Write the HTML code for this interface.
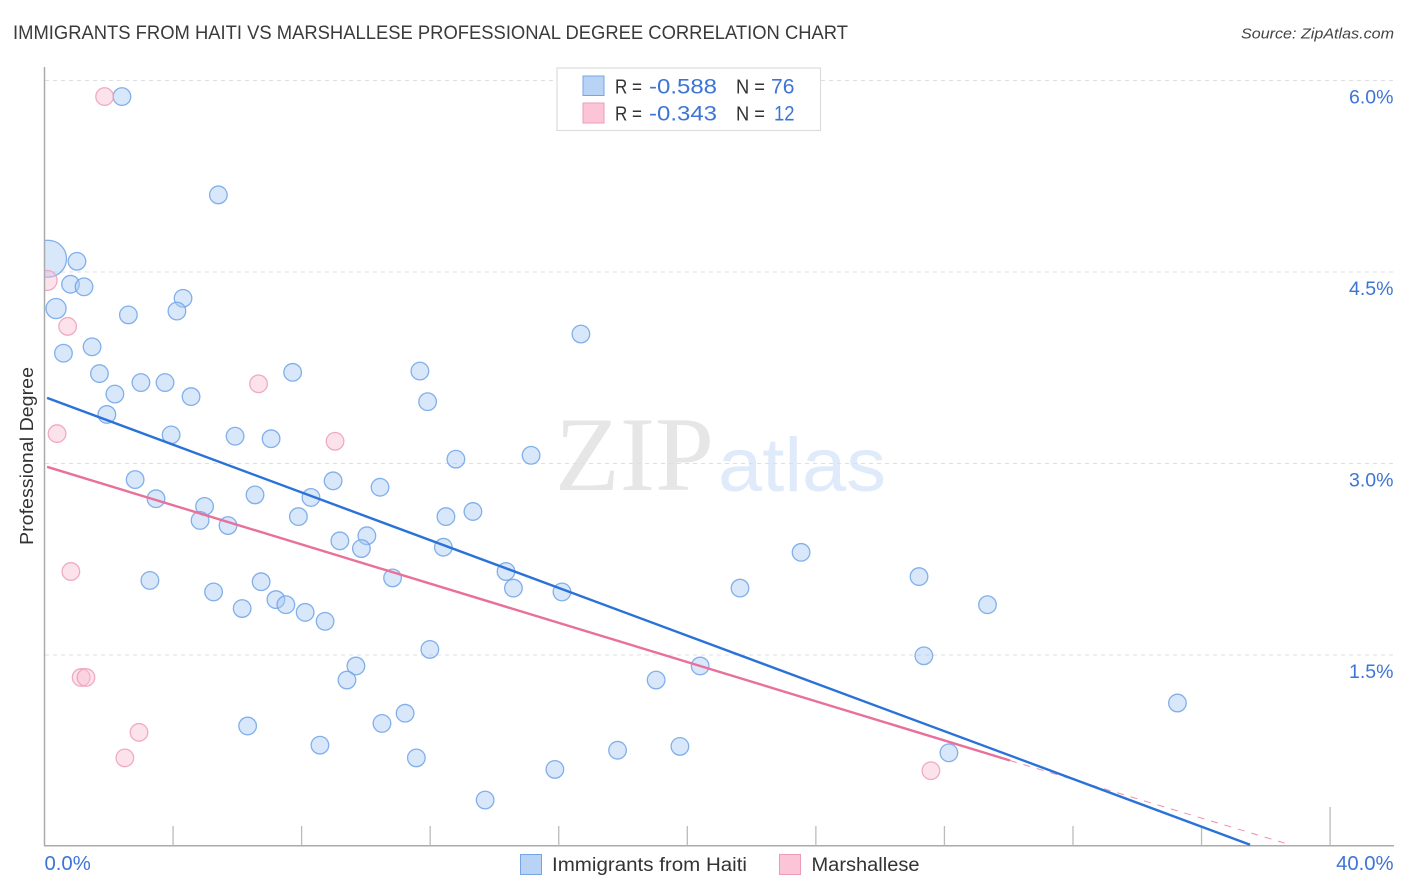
<!DOCTYPE html>
<html lang="en">
<head>
<meta charset="utf-8">
<title>Immigrants from Haiti vs Marshallese Professional Degree Correlation Chart</title>
<style>
html,body{margin:0;padding:0;background:#fff;}
body{width:1406px;height:892px;overflow:hidden;font-family:"Liberation Sans",sans-serif;}
svg{display:block;}
</style>
</head>
<body>
<svg id="chart" width="1406" height="892" viewBox="0 0 1406 892" xmlns="http://www.w3.org/2000/svg">
  <defs>
    <clipPath id="plot-clip" clipPathUnits="userSpaceOnUse"><rect x="44.5" y="60" width="1350" height="786"/></clipPath>
  </defs>
  <text x="13" y="39" font-size="19" fill="#3a3a3a" textLength="835" lengthAdjust="spacingAndGlyphs">IMMIGRANTS FROM HAITI VS MARSHALLESE PROFESSIONAL DEGREE CORRELATION CHART</text>
  <text x="1241" y="38.5" font-size="15" font-style="italic" fill="#444" textLength="153" lengthAdjust="spacingAndGlyphs">Source: ZipAtlas.com</text>
  <text x="555" y="490" font-family="'Liberation Serif',serif" font-size="106" fill="#e6e6e6" textLength="159" lengthAdjust="spacingAndGlyphs">ZIP</text>
  <text x="718" y="491" font-size="76" fill="#dfeafa" textLength="168" lengthAdjust="spacingAndGlyphs">atlas</text>
  <g id="grid"></g>
  <g id="points" clip-path="url(#plot-clip)"></g>
  <rect x="0" y="225" width="44" height="75" fill="#fff"/>
  <g id="axes"></g>
  <g id="trends"></g>
  <text transform="translate(33,456) rotate(-90)" text-anchor="middle" font-size="18" fill="#333" textLength="178" lengthAdjust="spacingAndGlyphs">Professional Degree</text>

  <g>
    <rect x="557" y="68" width="263.5" height="62.5" fill="#fff" stroke="#dcdcdc" stroke-width="1.2"/>
    <rect x="583" y="76" width="21" height="19.5" fill="#b9d3f7" stroke="#75a5e4" stroke-width="1"/>
    <rect x="583" y="103" width="21" height="20" fill="#fcc5d7" stroke="#eb9db8" stroke-width="1"/>
    <text x="615" y="93.5" font-size="20" fill="#333" textLength="27" lengthAdjust="spacingAndGlyphs">R =</text>
    <text x="649" y="93.5" font-size="21" fill="#3d75d6" textLength="68" lengthAdjust="spacingAndGlyphs">-0.588</text>
    <text x="736" y="93.5" font-size="20" fill="#333" textLength="29" lengthAdjust="spacingAndGlyphs">N =</text>
    <text x="771" y="93.5" font-size="21" fill="#3d75d6" textLength="23.5" lengthAdjust="spacingAndGlyphs">76</text>
    <text x="615" y="120.5" font-size="20" fill="#333" textLength="27" lengthAdjust="spacingAndGlyphs">R =</text>
    <text x="649" y="120.5" font-size="21" fill="#3d75d6" textLength="68" lengthAdjust="spacingAndGlyphs">-0.343</text>
    <text x="736" y="120.5" font-size="20" fill="#333" textLength="29" lengthAdjust="spacingAndGlyphs">N =</text>
    <text x="774" y="120.5" font-size="21" fill="#3d75d6" textLength="20.5" lengthAdjust="spacingAndGlyphs">12</text>
  </g>

  <g>
    <rect x="520.5" y="854.5" width="21" height="20" fill="#b9d3f7" stroke="#75a5e4" stroke-width="1"/>
    <text x="552" y="871" font-size="19" fill="#333" textLength="195" lengthAdjust="spacingAndGlyphs">Immigrants from Haiti</text>
    <rect x="779.5" y="854.5" width="21" height="20" fill="#fcc5d7" stroke="#eb9db8" stroke-width="1"/>
    <text x="811.5" y="871" font-size="19" fill="#333" textLength="108" lengthAdjust="spacingAndGlyphs">Marshallese</text>
  </g>
</svg>
<script>
// Chart data (percent values)
const haitiX = [2.41,5.41,1.01,0.81,1.23,4.31,4.12,2.61,0.36,1.48,0.59,16.69,1.71,3.00,3.75,7.72,11.68,2.19,4.56,11.92,1.94,3.94,5.93,7.05,12.80,15.14,2.82,8.98,10.44,3.47,6.55,8.29,4.98,4.84,5.71,7.90,12.49,13.33,9.19,10.03,9.86,12.41,23.54,14.36,3.28,6.74,10.83,27.21,5.26,14.59,16.10,21.64,7.20,7.51,6.15,8.11,8.73,29.34,11.99,27.36,9.69,20.40,9.41,19.03,35.25,6.32,10.50,11.22,8.57,17.83,19.77,28.14,11.57,15.88,13.71,0.11];
const haitiY = [5.87,5.10,4.58,4.40,4.38,4.29,4.19,4.16,4.21,3.91,3.86,4.01,3.70,3.63,3.63,3.71,3.72,3.54,3.52,3.48,3.38,3.22,3.21,3.19,3.03,3.06,2.87,2.86,2.81,2.72,2.75,2.73,2.66,2.55,2.51,2.58,2.58,2.62,2.39,2.43,2.33,2.34,2.30,2.15,2.08,2.07,2.10,2.11,1.99,2.02,1.99,2.02,1.93,1.89,1.86,1.83,1.76,1.89,1.54,1.49,1.41,1.41,1.30,1.30,1.12,0.94,0.96,1.04,0.79,0.75,0.78,0.73,0.69,0.60,0.36,4.60];
const haitiWeight = [1,1,1,1,1,1,1,1,1.3,1,1,1,1,1,1,1,1,1,1,1,1,1,1,1,1,1,1,1,1,1,1,1,1,1,1,1,1,1,1,1,1,1,1,1,1,1,1,1,1,1,1,1,1,1,1,1,1,1,1,1,1,1,1,1,1,1,1,1,1,1,1,1,1,1,1,4.4];
const marshalleseX = [1.87,0.08,0.72,6.66,0.39,9.04,0.82,1.14,1.29,2.94,2.50,27.58];
const marshalleseY = [5.87,4.43,4.07,3.62,3.23,3.17,2.15,1.32,1.32,0.89,0.69,0.59];
const marshalleseWeight = [1,1.3,1,1,1,1,1,1,1,1,1,1];
const haitiTrendX = [0.08,37.51];
const haitiTrendY = [3.51,0.01];
const marshalleseTrendX = [0.08,30.04];
const marshalleseTrendY = [2.97,0.67];
const marshalleseForecastX = [30.04,38.75];
const marshalleseForecastY = [0.67,0.01];
const yTickValues = [6.0,4.5,3.0,1.5];
const yTickLabels = ["6.0%","4.5%","3.0%","1.5%"];
const xTickValues = [4,8,12,16,20,24,28,32,36,40];
const xEndValues = [0,40];
const xEndLabels = ["0.0%","40.0%"];

// Axis functions
const X0 = 44.5, Y0 = 846, PX_PER_X = 32.14, PX_PER_Y = 127.67;
function xScale(v){ return X0 + v * PX_PER_X; }
function yScale(v){ return Y0 - v * PX_PER_Y; }
function rScale(w){ return 8.8 * Math.sqrt(w); }

const NS = 'http://www.w3.org/2000/svg';
function make(parent, tag, attrs, text){
  const el = document.createElementNS(NS, tag);
  for (const k in attrs) el.setAttribute(k, attrs[k]);
  if (text !== undefined) el.textContent = text;
  parent.appendChild(el);
  return el;
}
const grid = document.getElementById('grid');
const axes = document.getElementById('axes');
const points = document.getElementById('points');
const trends = document.getElementById('trends');

// Gridlines and y labels
yTickValues.forEach(function(v, i){
  const line = make(grid, 'line', {x1:45, x2:1393, y1:yScale(v)+0.5, y2:yScale(v)+0.5, stroke:'#dcdfe3', 'stroke-width':1, 'stroke-dasharray':'4 4'});
  
  
  const label = make(axes, 'text', {x:1393.5, y:yScale(v)+23.5, 'text-anchor':'end', 'font-size':19.5, fill:'#3d75d6'}, yTickLabels[i]);
  
  
});

// Axis lines
const yAxisLine = make(axes, 'line', {x1:44.5, x2:44.5, y1:67, y2:846, stroke:'#aaa', 'stroke-width':1.5});


const xAxisLine = make(axes, 'line', {x1:44, x2:1394, y1:845.7, y2:845.7, stroke:'#aaa', 'stroke-width':1.5});



// X ticks
xTickValues.forEach(function(v, i){
  const isLast = i === xTickValues.length - 1;
  const tick = make(axes, 'line', {x1:xScale(v), x2:xScale(v), y1:isLast ? 807 : 826, y2:845.5, stroke:'#bbb', 'stroke-width':1.3});
  
  
});
xEndValues.forEach(function(v, i){
  const label = make(axes, 'text', {x:i === 0 ? xScale(v) : xScale(v)+63.5, y:870, 'text-anchor':i === 0 ? 'start' : 'end', 'font-size':20.3, fill:'#3d75d6'}, xEndLabels[i]);
  
  
});

// Points
haitiX.forEach(function(v, i){
  const c = make(points, 'circle', {cx:xScale(v), cy:yScale(haitiY[i]), r:rScale(haitiWeight[i]), fill:'#a9c9f4', 'fill-opacity':0.45, stroke:'#6fa3e6', 'stroke-width':1.3, 'stroke-opacity':0.85});
  
  
});
marshalleseX.forEach(function(v, i){
  const c = make(points, 'circle', {cx:xScale(v), cy:yScale(marshalleseY[i]), r:rScale(marshalleseWeight[i]), fill:'#f9bfd2', 'fill-opacity':0.45, stroke:'#ee9db8', 'stroke-width':1.3, 'stroke-opacity':0.85});
  
  
});

// Trend lines
const forecast = make(trends, 'line', {x1:xScale(marshalleseForecastX[0]), y1:yScale(marshalleseForecastY[0]), x2:xScale(marshalleseForecastX[1]), y2:yScale(marshalleseForecastY[1]), stroke:'#e8709b', 'stroke-width':1, 'stroke-dasharray':'7 7', 'stroke-opacity':0.8});


const pinkTrend = make(trends, 'line', {x1:xScale(marshalleseTrendX[0]), y1:yScale(marshalleseTrendY[0]), x2:xScale(marshalleseTrendX[1]), y2:yScale(marshalleseTrendY[1]), stroke:'#e8709b', 'stroke-width':2.4});


const blueTrend = make(trends, 'line', {x1:xScale(haitiTrendX[0]), y1:yScale(haitiTrendY[0]), x2:xScale(haitiTrendX[1]), y2:yScale(haitiTrendY[1]), stroke:'#2a72d8', 'stroke-width':2.4});


</script>
</body>
</html>
